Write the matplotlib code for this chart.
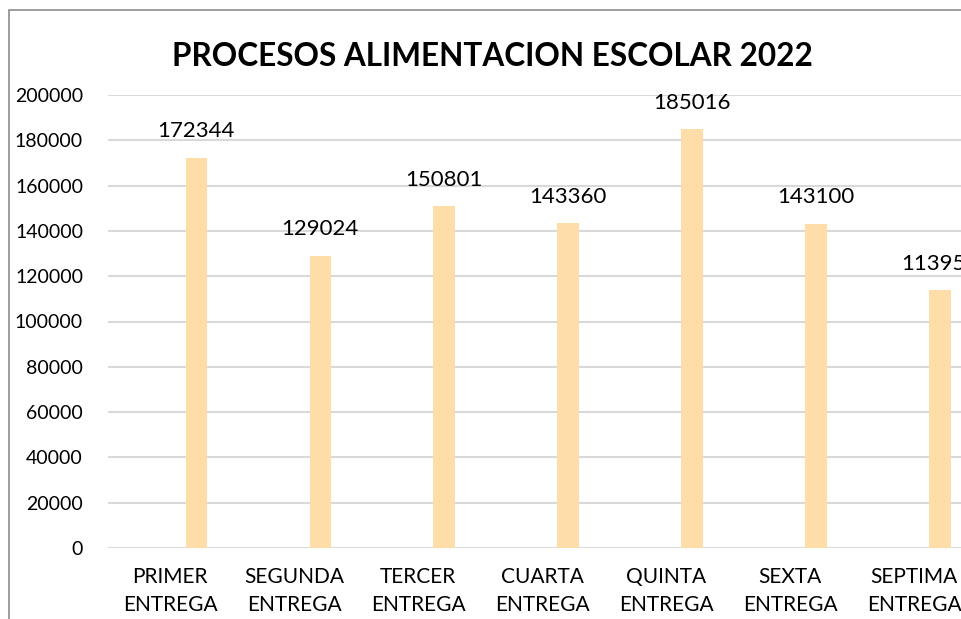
import matplotlib.pyplot as plt
from matplotlib.patches import Rectangle

# data
categories = ["PRIMER\nENTREGA", "SEGUNDA\nENTREGA", "TERCER\nENTREGA", "CUARTA\nENTREGA",
              "QUINTA\nENTREGA", "SEXTA\nENTREGA", "SEPTIMA\nENTREGA"]
values = [172344, 129024, 150801, 143360, 185016, 143100, 113952]
yticks = [0, 20000, 40000, 60000, 80000, 100000, 120000, 140000, 160000, 180000, 200000]
title = "PROCESOS ALIMENTACION ESCOLAR 2022"

plt.rcParams['font.family'] = ['Lato', 'DejaVu Sans']

W, H = 961, 619
fig = plt.figure(figsize=(W / 100, H / 100), dpi=100)

# chart area border (cropped on right/bottom)
fig.patches.append(Rectangle((9 / W, -0.1), 1.2, (H - 10) / H + 0.1, transform=fig.transFigure,
                             fill=False, edgecolor='#8c8c8c', linewidth=1.2))

# plot area goes past the right edge, like the cropped screenshot
ax = fig.add_axes([108 / W, 71 / H, 868 / W, 453 / H])

x = list(range(len(categories)))
bx = [i + 0.21 for i in x]
ax.bar(bx, values, width=0.17, color='#FFDDA8', zorder=3)

for xi, v in zip(bx, values):
    ax.annotate(str(v), (xi, v), xytext=(0, 19), textcoords='offset points',
                ha='center', va='center', fontsize=16, color='black')

ax.set_xlim(-0.5, len(categories) - 0.5)
ax.set_ylim(0, 200000)
ax.set_yticks(yticks)
ax.set_yticklabels([str(t) for t in yticks])
ax.set_xticks(x)
ax.set_xticklabels(categories, linespacing=1.45)
ax.tick_params(axis='both', length=0, colors='black')
ax.tick_params(axis='y', pad=18, labelsize=14)
ax.tick_params(axis='x', pad=14, labelsize=15)
ax.grid(axis='y', color='#d9d9d9', linewidth=1.5, zorder=0)
for s in ax.spines.values():
    s.set_visible(False)

fig.text(492 / W, 1 - 56 / H, title, ha='center', va='center',
         fontsize=22.7, fontweight='bold', color='black')

fig.savefig('out.png', dpi=100)
